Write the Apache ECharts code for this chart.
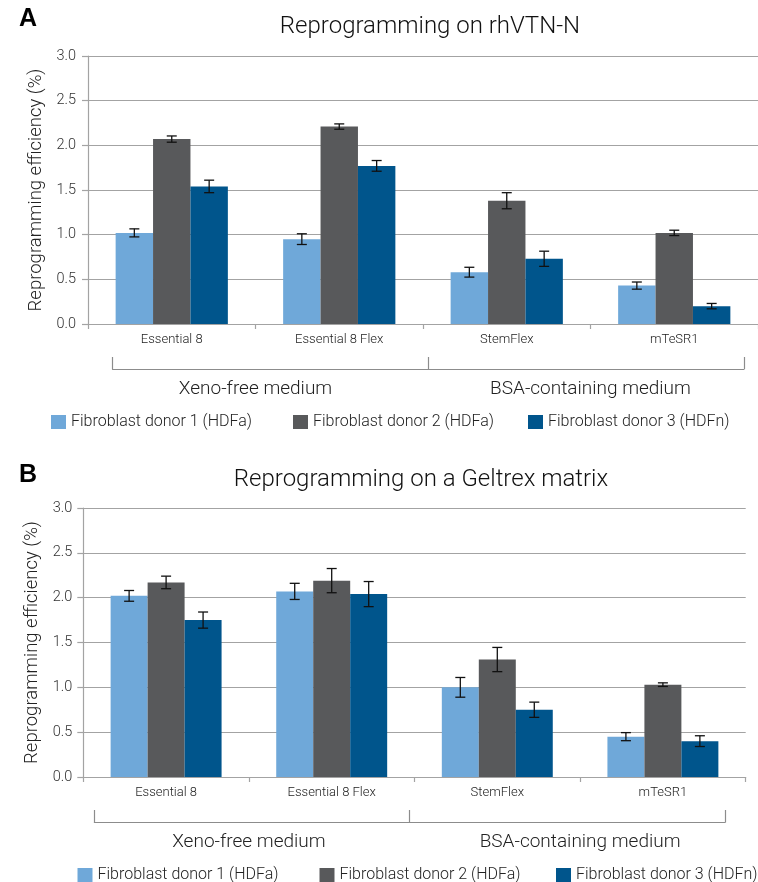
<!DOCTYPE html>
<html>
<head>
<meta charset="utf-8">
<script src="https://cdn.jsdelivr.net/npm/echarts@6/dist/echarts.min.js"></script>
<style>
html,body{margin:0;padding:0;background:#fff;overflow:hidden;}
#chart{width:758px;height:882px;}
</style>
</head>
<body>
<div id="chart"></div>
<script>
// ---- data ----
const categories = ['Essential 8', 'Essential 8 Flex', 'StemFlex', 'mTeSR1'];
const groups = ['Xeno-free medium', 'BSA-containing medium'];
const donorNames = ['Fibroblast donor 1 (HDFa)', 'Fibroblast donor 2 (HDFa)', 'Fibroblast donor 3 (HDFn)'];
const yTicks = [0, 0.5, 1.0, 1.5, 2.0, 2.5, 3.0];
const panelTitles = ['Reprogramming on rhVTN-N', 'Reprogramming on a Geltrex matrix'];
const panelLetters = ['A', 'B'];
const yAxisName = 'Reprogramming efficiency (%)';

// Panel A: rhVTN-N
const vtnDonor1 = [1.02, 0.95, 0.58, 0.43];
const vtnDonor2 = [2.07, 2.21, 1.38, 1.02];
const vtnDonor3 = [1.54, 1.77, 0.73, 0.20];
const vtnErr1 = [0.045, 0.06, 0.055, 0.04];
const vtnErr2 = [0.035, 0.03, 0.09, 0.03];
const vtnErr3 = [0.07, 0.06, 0.085, 0.03];

// Panel B: Geltrex
const gelDonor1 = [2.02, 2.07, 1.00, 0.45];
const gelDonor2 = [2.17, 2.19, 1.31, 1.03];
const gelDonor3 = [1.75, 2.04, 0.75, 0.40];
const gelErr1 = [0.06, 0.09, 0.11, 0.045];
const gelErr2 = [0.07, 0.135, 0.135, 0.02];
const gelErr3 = [0.09, 0.14, 0.085, 0.06];

// ---- styling ----
const colors = ['#6fa8d9', '#58595b', '#00558c'];
const FONT = 'Roboto, "Liberation Sans", sans-serif';
const GRID_COLOR = '#a3a3a3';
const CAT_GAP = '33%';
const CAT_GAP_FRAC = 0.33;

const chart = echarts.init(document.getElementById('chart'), null, {renderer: 'canvas'});

const panels = [
  {values: [vtnDonor1, vtnDonor2, vtnDonor3], errs: [vtnErr1, vtnErr2, vtnErr3],
   grid: {left: 88, top: 56, width: 682, height: 268},
   bracket: {left: 112.5, top: 357, width: 631.5, height: 12},
   nameGap: 41, labelMargin: 12, legendTop: 414, legendLefts: [51, 293, 528],
   groupOffset: 56, titleY: 27, letterY: 19},
  {values: [gelDonor1, gelDonor2, gelDonor3], errs: [gelErr1, gelErr2, gelErr3],
   grid: {left: 83.3, top: 508, width: 662.4, height: 269},
   bracket: {left: 94.4, top: 810, width: 630.6, height: 12.5},
   nameGap: 38, labelMargin: 11, legendTop: 867, legendLefts: [77.5, 319.5, 556],
   groupOffset: 56, titleY: 480, letterY: 475}
];

const grids = [], xAxes = [], yAxes = [], series = [], legends = [], graphics = [];

panels.forEach((p, pi) => {
  const gMain = grids.length;
  grids.push(Object.assign({containLabel: false}, p.grid));
  const gBr = grids.length;
  grids.push(Object.assign({containLabel: false}, p.bracket));

  // main category axis
  const xMain = xAxes.length;
  xAxes.push({
    type: 'category', gridIndex: gMain, data: categories, position: 'bottom',
    axisLine: {show: true, lineStyle: {color: GRID_COLOR, width: 1.2}},
    axisTick: {show: true, length: 5, lineStyle: {color: GRID_COLOR, width: 1.2}},
    axisLabel: {fontFamily: FONT, fontSize: 13, fontWeight: 300, color: '#222', margin: 9}
  });
  // group labels axis
  xAxes.push({
    type: 'category', gridIndex: gMain, data: groups, position: 'bottom', offset: p.groupOffset,
    axisLine: {show: false}, axisTick: {show: false},
    axisLabel: {fontFamily: FONT, fontSize: 19, fontWeight: 300, color: '#222', margin: 0}
  });
  // bracket axis
  xAxes.push({
    type: 'category', gridIndex: gBr, data: groups, position: 'bottom',
    axisLine: {show: true, lineStyle: {color: '#8c8c8c', width: 1.2}},
    axisTick: {show: true, inside: true, length: p.bracket.height, lineStyle: {color: '#8c8c8c', width: 1.2}},
    axisLabel: {show: false}
  });

  const yMain = yAxes.length;
  yAxes.push({
    type: 'value', gridIndex: gMain, min: 0, max: 3, interval: 0.5,
    name: yAxisName, nameLocation: 'middle', nameGap: p.nameGap,
    nameTextStyle: {fontFamily: FONT, fontSize: 18.5, fontWeight: 300, color: '#222'},
    axisLine: {show: true, lineStyle: {color: GRID_COLOR, width: 1.2}},
    axisTick: {show: true, length: 6, lineStyle: {color: GRID_COLOR, width: 1.2}},
    axisLabel: {fontFamily: FONT, fontSize: 14.5, fontWeight: 300, color: '#333', margin: p.labelMargin,
      formatter: v => yTicks.indexOf(v) >= 0 ? v.toFixed(1) : ''},
    splitLine: {show: true, lineStyle: {color: GRID_COLOR, width: 1.2}}
  });
  yAxes.push({type: 'value', gridIndex: gBr, show: false, min: 0, max: 1});

  donorNames.forEach((name, di) => {
    series.push({
      type: 'bar', name: name, xAxisIndex: xMain, yAxisIndex: yMain,
      data: p.values[di], barGap: 0, barCategoryGap: CAT_GAP,
      itemStyle: {color: colors[di]}, silent: true
    });
  });
  donorNames.forEach((name, di) => {
    const errData = p.values[di].map((v, ci) => [ci, v, p.errs[di][ci]]);
    series.push({
      type: 'custom', name: 'err' + pi + di, xAxisIndex: xMain, yAxisIndex: yMain,
      data: errData, silent: true, z: 10,
      renderItem: (params, api) => {
        const ci = api.value(0), v = api.value(1), e = api.value(2);
        const band = api.size([1, 0])[0];
        const bw = band * (1 - CAT_GAP_FRAC) / 3;
        const cx = api.coord([ci, v])[0] + (di - 1) * bw;
        const yTop = api.coord([ci, v + e])[1];
        const yBot = api.coord([ci, v - e])[1];
        const cap = 5;
        const st = {stroke: '#111', lineWidth: 1.3};
        return {type: 'group', children: [
          {type: 'line', shape: {x1: cx, y1: yTop, x2: cx, y2: yBot}, style: st},
          {type: 'line', shape: {x1: cx - cap, y1: yTop, x2: cx + cap, y2: yTop}, style: st},
          {type: 'line', shape: {x1: cx - cap, y1: yBot, x2: cx + cap, y2: yBot}, style: st}
        ]};
      }
    });
  });

  donorNames.forEach((name, di) => {
    legends.push({
      data: [name], left: p.legendLefts[di], top: p.legendTop, padding: 0,
      itemWidth: 15, itemHeight: 14, itemGap: 0, icon: 'rect', selectedMode: false,
      textStyle: {fontFamily: FONT, fontSize: 16, fontWeight: 300, color: '#222'}
    });
  });

  graphics.push({
    type: 'text', x: 430 - (pi ? 9 : 0), y: p.titleY,
    style: {text: panelTitles[pi], textAlign: 'center', textVerticalAlign: 'middle',
      font: '300 24px ' + FONT, fill: '#111'}
  });
  graphics.push({
    type: 'text', x: 19, y: p.letterY,
    style: {text: panelLetters[pi], textAlign: 'left', textVerticalAlign: 'middle',
      font: 'bold 25px "Liberation Sans", Arial, sans-serif', fill: '#000'}
  });
});

chart.setOption({
  animation: false,
  backgroundColor: '#fff',
  grid: grids, xAxis: xAxes, yAxis: yAxes, series: series, legend: legends,
  graphic: graphics
});
</script>
</body>
</html>
